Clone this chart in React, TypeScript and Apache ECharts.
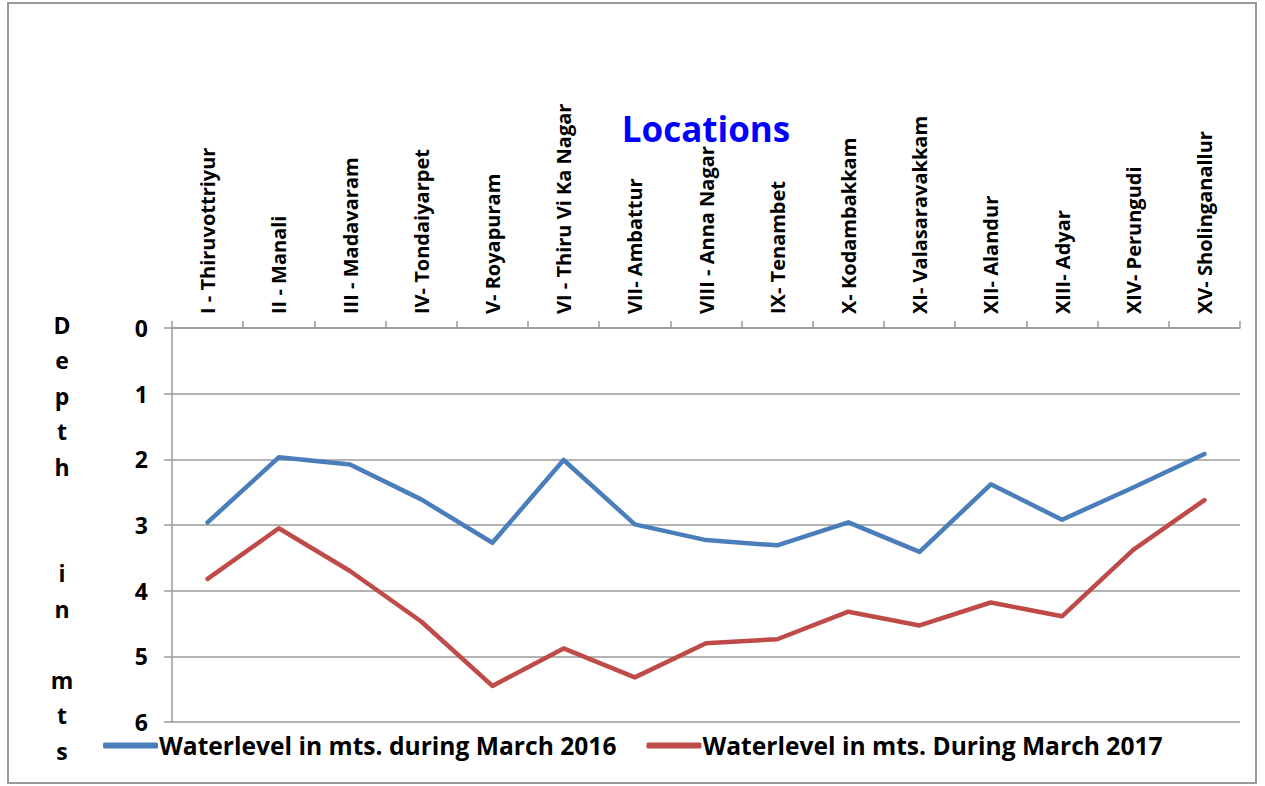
import React, { useEffect, useRef } from "react";
import * as echarts from "echarts";

const categories = [
  "I - Thiruvottriyur",
  "II - Manali",
  "III - Madavaram",
  "IV- Tondaiyarpet",
  "V- Royapuram",
  "VI - Thiru Vi Ka Nagar",
  "VII- Ambattur",
  "VIII - Anna Nagar",
  "IX- Tenambet",
  "X- Kodambakkam",
  "XI- Valasaravakkam",
  "XII- Alandur",
  "XIII- Adyar",
  "XIV- Perungudi",
  "XV- Sholinganallur",
];

const level2016 = [2.96, 1.97, 2.08, 2.61, 3.27, 2.01, 2.99, 3.23, 3.31, 2.96, 3.41, 2.38, 2.92, 2.43, 1.92];
const level2017 = [3.82, 3.05, 3.7, 4.47, 5.45, 4.88, 5.32, 4.8, 4.74, 4.32, 4.53, 4.18, 4.39, 3.38, 2.62];

const seriesNames = [
  "Waterlevel in mts. during March 2016",
  "Waterlevel in mts. During March 2017",
];

const FONT = "'Open Sans', 'Noto Sans', sans-serif";

export default function App() {
  const ref = useRef<HTMLDivElement>(null);

  useEffect(() => {
    if (!ref.current) return;
    const chart = echarts.init(ref.current, undefined, { renderer: "svg" });
    chart.setOption({
      animation: false,
      backgroundColor: "#ffffff",
      textStyle: { fontFamily: FONT },
      grid: { left: 172, right: 25, top: 328, bottom: 64, containLabel: false },
      graphic: [
        {
          type: "rect",
          shape: { x: 8, y: 3, width: 1248, height: 780 },
          style: { fill: "none", stroke: "#9a9a9a", lineWidth: 2 },
          silent: true,
        },
        {
          type: "text",
          x: 706,
          y: 128,
          style: {
            text: "Locations",
            fill: "#0000ff",
            font: `bold 35px ${FONT}`,
            textAlign: "center",
            textVerticalAlign: "middle",
          },
        },
        {
          type: "text",
          x: 62,
          y: 307,
          style: {
            text: "D\ne\np\nt\nh\n\n\ni\nn\n\nm\nt\ns",
            fill: "#000000",
            font: `bold 23px ${FONT}`,
            lineHeight: 35.5,
            textAlign: "center",
            textVerticalAlign: "top",
          },
        },
      ],
      legend: {
        left: 98,
        top: 728,
        itemWidth: 55,
        itemHeight: 6,
        itemGap: 30,
        icon: "roundRect",
        textStyle: { fontSize: 24.6, fontWeight: "bold", color: "#000000", fontFamily: FONT, padding: [0, 0, 0, -4] },
        data: seriesNames,
      },
      xAxis: {
        type: "category",
        position: "top",
        data: categories,
        boundaryGap: true,
        axisLine: { show: true, lineStyle: { color: "#9a9a9a", width: 1.5 } },
        axisTick: { show: true, length: 7, lineStyle: { color: "#9a9a9a", width: 1.5 } },
        axisLabel: {
          interval: 0,
          rotate: 90,
          margin: 14,
          fontSize: 20,
          fontWeight: "bold",
          color: "#000000",
          fontFamily: FONT,
        },
        splitLine: { show: false },
      },
      yAxis: {
        type: "value",
        inverse: true,
        min: 0,
        max: 6,
        interval: 1,
        axisLine: { show: true, lineStyle: { color: "#9a9a9a", width: 1.5 } },
        axisTick: { show: true, length: 8, lineStyle: { color: "#9a9a9a", width: 1.5 } },
        axisLabel: {
          margin: 24,
          fontSize: 23,
          fontWeight: "bold",
          color: "#000000",
          fontFamily: FONT,
        },
        splitLine: { show: true, lineStyle: { color: "#9a9a9a", width: 1.5 } },
      },
      series: [
        {
          name: seriesNames[0],
          type: "line",
          data: level2016,
          showSymbol: false,
          symbol: "none",
          color: "#4a7ebb",
          lineStyle: { color: "#4a7ebb", width: 4.5, cap: "round", join: "round" },
        },
        {
          name: seriesNames[1],
          type: "line",
          data: level2017,
          showSymbol: false,
          symbol: "none",
          color: "#be4b48",
          lineStyle: { color: "#be4b48", width: 4.5, cap: "round", join: "round" },
        },
      ],
    });
    return () => chart.dispose();
  }, []);

  return (
    <div
      ref={ref}
      style={{ position: "fixed", left: 0, top: 0, width: 1265, height: 786, background: "#fff" }}
    />
  );
}
